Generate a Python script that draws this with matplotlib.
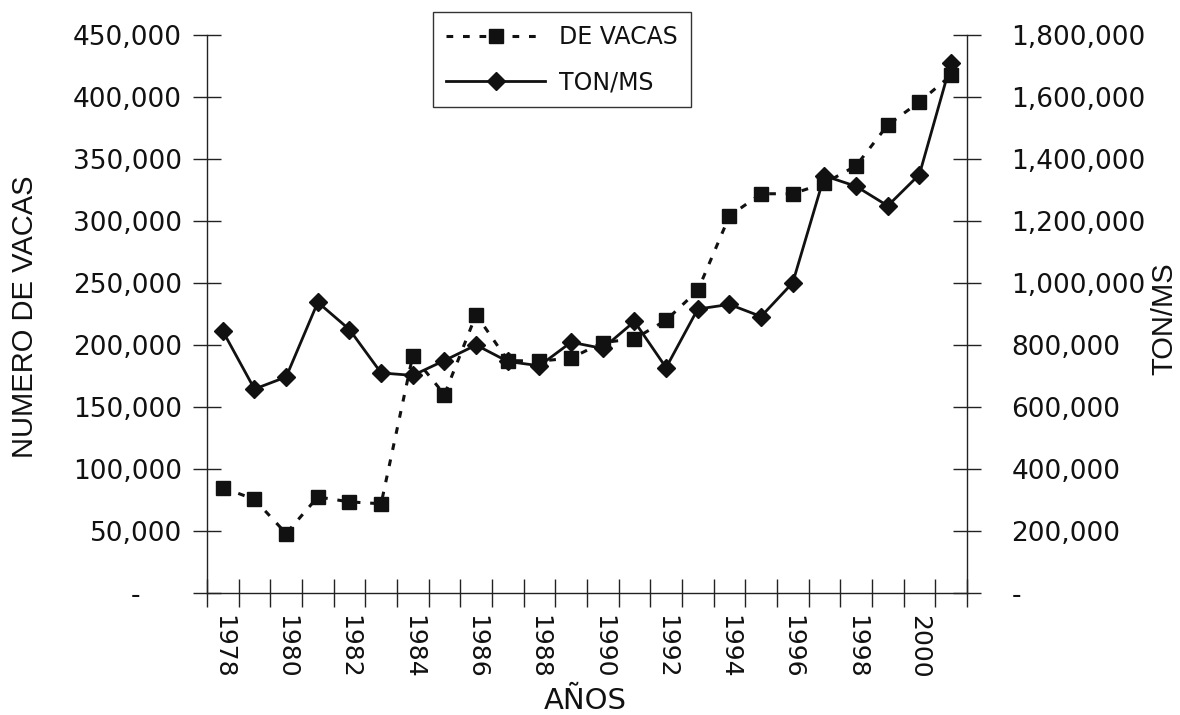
import matplotlib
matplotlib.use("Agg")
import matplotlib.pyplot as plt
import numpy as np
from matplotlib.ticker import FixedLocator, FuncFormatter, MultipleLocator

plt.rcParams["font.family"] = ["DejaVu Sans"]

YEARS = list(range(1978, 2002))
VACAS = [85000, 75500, 48000, 77500, 73500, 72000, 191500, 160000, 224500, 187500,
         187000, 189500, 202000, 205000, 220000, 244000, 304000, 322000, 322000, 330500,
         344500, 377500, 396000, 417500]
TON_MS = [845000, 658000, 697000, 938000, 850000, 710000, 702000, 750000, 800000, 747000,
          733000, 809000, 789000, 876000, 727000, 916000, 931000, 892000, 1001000, 1346000,
          1312000, 1249000, 1350000, 1711000]
LABEL_YEARS = list(range(1978, 2001, 2))

FS = 19
ROT_FONT = ["Liberation Sans", "DejaVu Sans"]
INK = "#111111"


def left_fmt(v, _):
    return f"{v:,.0f}" if v else "-     "


def right_fmt(v, _):
    return f"{v:,.0f}" if v else "-"


fig = plt.figure(figsize=(11.8, 7.15), dpi=100, facecolor="white")
ax = fig.add_axes((0.1754, 0.1706, 0.644, 0.7804))
ax2 = ax.twinx()

x = np.arange(len(YEARS))
l1, = ax.plot(x, VACAS, color=INK, linestyle=(0, (2.2, 3.2)), linewidth=2.2,
              marker="s", markersize=10.5, label="DE VACAS", zorder=3)
l2, = ax2.plot(x, TON_MS, color=INK, linestyle="-", linewidth=2.0,
               marker="D", markersize=9.5, label="TON/MS", zorder=3)

ax.set_xlim(-0.5, len(YEARS) - 0.5)
ax.set_ylim(0, 450000)
ax2.set_ylim(0, 1800000)

ax.yaxis.set_major_locator(MultipleLocator(50000))
ax2.yaxis.set_major_locator(MultipleLocator(200000))
ax.yaxis.set_major_formatter(FuncFormatter(left_fmt))
ax2.yaxis.set_major_formatter(FuncFormatter(right_fmt))

ax.xaxis.set_major_locator(FixedLocator(np.arange(len(YEARS) + 1) - 0.5))
ax.xaxis.set_major_formatter(FuncFormatter(lambda v, _: ""))
ax.xaxis.set_minor_locator(FixedLocator([YEARS.index(y) for y in LABEL_YEARS]))
ax.xaxis.set_minor_formatter(FuncFormatter(lambda v, _: str(YEARS[int(round(v))])))

for a in (ax, ax2):
    a.spines["top"].set_visible(False)
    for s in a.spines.values():
        s.set_linewidth(1.0)
        s.set_color("#222222")
ax.spines["right"].set_visible(False)
ax2.spines["left"].set_visible(False)
ax2.spines["bottom"].set_visible(False)

ax.tick_params(axis="y", direction="inout", length=20, width=1, color="#222222",
               labelsize=FS, pad=8, labelcolor=INK)
ax2.tick_params(axis="y", direction="inout", length=20, width=1, color="#222222",
                labelsize=FS, pad=22, labelcolor=INK)
ax.tick_params(axis="x", which="major", direction="inout", length=20, width=1,
               color="#222222")
ax.tick_params(axis="x", which="minor", length=0, labelsize=18, pad=16,
               labelrotation=270, labelcolor=INK)

fig.text(25 / 1180, 1 - 317 / 715, "NUMERO DE VACAS", rotation=90, ha="center",
         va="center", fontsize=21, family=ROT_FONT, color=INK)
fig.text(1164 / 1180, 1 - 319 / 715, "TON/MS", rotation=90, ha="center",
         va="center", fontsize=21, family=ROT_FONT, color=INK)
fig.text(585 / 1180, 1 - 701 / 715, "AÑOS", ha="center", va="center",
         fontsize=21, color=INK)

leg = fig.legend(handles=[l1, l2], loc="upper left", bbox_to_anchor=(0.367, 0.983),
                 fontsize=17, frameon=True, fancybox=False, edgecolor="black",
                 handlelength=4.2, handletextpad=0.6, labelspacing=0.9,
                 borderpad=0.55, borderaxespad=0)
leg.get_frame().set_linewidth(1.0)
for t in leg.get_texts():
    t.set_color(INK)

fig.savefig("out.png", dpi=100, facecolor="white")
